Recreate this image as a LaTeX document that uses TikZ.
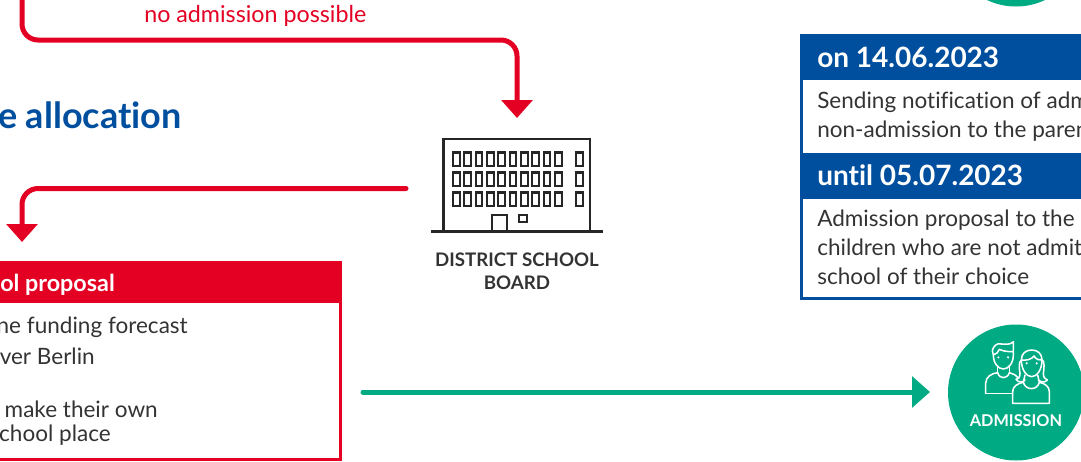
\documentclass[tikz,border=0pt]{standalone}
\usepackage{fontspec}
\setmainfont[Ligatures=NoCommon]{Lato}
\usetikzlibrary{arrows.meta}
\definecolor{rd}{HTML}{E40023}
\definecolor{bl}{HTML}{004F9F}
\definecolor{gr}{HTML}{00AB84}
\definecolor{tx}{HTML}{333333}
\tikzset{
  body/.style={font=\fontsize{16.9}{20}\selectfont,text=tx,inner sep=0pt,anchor=base west},
  bodyR/.style={body,anchor=base east},
  headW/.style={font=\fontsize{21}{24}\selectfont\bfseries,text=white,inner sep=0pt,anchor=base west},
  headR/.style={font=\fontsize{17.5}{20}\selectfont\bfseries,text=white,inner sep=0pt,anchor=base east},
  lab/.style={font=\fontsize{14}{16}\selectfont\bfseries,inner sep=0pt,anchor=base},
  labW/.style={font=\fontsize{12.2}{16}\selectfont\bfseries,text=white,inner sep=0pt,anchor=base},
  redarrow/.style={draw=rd,line width=3.75pt,rounded corners=12pt,line cap=round,-{Triangle[width=23pt,length=13.5pt]}},
  greenarrow/.style={draw=gr,line width=3.75pt,line cap=round,-{Triangle[width=23pt,length=13.5pt]}},
  bld/.style={draw=black!85,line width=1.55pt},
  ppl/.style={draw=white,line width=1.15pt,line join=round,line cap=round},
}
\begin{document}
\begin{tikzpicture}[x=0.75pt,y=-0.75pt]
\useasboundingbox (0,0) rectangle (1081,461);
\clip (0,0) rectangle (1081,461);
% blue panel
\draw[bl,line width=2.2pt] (801.5,34) -- (801.5,298.5) -- (1085,298.5);
\fill[bl] (800,34) rectangle (1085,80);
\fill[bl] (800,153) rectangle (1085,199);
\node[headW] (h1) at (817,67.5) {on 14.06.2023};
\node[headW] (h2) at (817,185.5) {until 05.07.2023};
\node[body] (b1) at (817,108) {Sending notification of adm};
\node[body] (b2) at (817,137) {non-admission to the paren};
\node[body] (b3) at (817,226) {Admission proposal to the};
\node[body] (b4) at (817,255) {children who are not admit};
\node[body] (b5) at (817,284) {school of their choice};
% red panel
\draw[rd,line width=2.2pt] (-5,459.5) -- (340.5,459.5) -- (340.5,261);
\fill[rd] (-5,261) rectangle (342,303);
\node[headR] (rh) at (115,291) {ol proposal};
\node[bodyR] (r1) at (188,333) {ne funding forecast};
\node[bodyR] (r2) at (95,364) {ver Berlin};
\node[bodyR] (r3) at (158,417) {make their own};
\node[bodyR] (r4) at (111,441) {chool place};
% texts
\node[font=\fontsize{27}{30}\selectfont\bfseries,text=bl,inner sep=0pt,anchor=base east] (alloc) at (182,128) {e allocation};
\node[font=\fontsize{17.45}{20}\selectfont,text=rd,inner sep=0pt,anchor=base west] (noadm) at (144,22) {no admission possible};
\node[lab,text=tx] (ds1) at (517,266.5) {DISTRICT SCHOOL};
\node[lab,text=tx] (ds2) at (517,289.5) {BOARD};
% building
\draw[bld] (443.5,231) -- (443.5,139) -- (590,139) -- (590,231);
\draw[bld] (431,231.5) -- (603,231.5);
\foreach \y in {152.5,172.5,192.5}{
  \foreach \i in {0,...,9}{
    \draw[bld] ({453+11.35*\i},\y) rectangle ({459.6+11.35*\i},\y+13.5);
  }
  \draw[bld] (576,\y) rectangle (582.6,\y+13.5);
}
\draw[bld] (492,231) -- (492,215) -- (507,215) -- (507,231);
\draw[bld] (519,215) rectangle (527,222);
% circles
\fill[gr] (1016,-61.5) circle (68);
\node[circle,fill=gr,minimum size=51pt,inner sep=0pt] (adm) at (1016,392.5) {};
\fill[gr] (1016,392.5) circle (68);
\node[labW] (admt) at (1016,426) {ADMISSION};
\begin{scope}[shift={(930,320)},x=0.25pt,y=-0.25pt]
 % man
 \draw[ppl] (167,220) -- (248,220);
 \draw[ppl] (167,220) -- (167,190) .. controls (167,170) and (185,160) .. (203,158)
   .. controls (208,178) and (232,178) .. (238,158) .. controls (248,160) and (258,165) .. (266,176);
 \draw[ppl] (203,142) -- (203,158);
 \draw[ppl] (238,142) -- (238,158);
 \draw[ppl] (190,105) .. controls (190,130) and (205,147) .. (220,147) .. controls (235,147) and (250,130) .. (250,105)
    -- (250,65) .. controls (240,76) and (225,72) .. (215,72) .. controls (200,68) and (190,78) .. (187,92) -- (190,105)
    .. controls (200,103) and (205,95) .. (208,88) .. controls (222,95) and (238,95) .. (250,95);
 \fill[white] (205,112) circle (3.5) (234,112) circle (3.5);
 % woman
 \draw[ppl] (248,250) -- (358,250) -- (358,215) .. controls (358,200) and (345,190) .. (328,187)
    .. controls (322,212) and (286,212) .. (280,187) .. controls (262,190) and (248,200) .. (248,215) -- cycle;
 \draw[ppl] (285,165) -- (280,187);
 \draw[ppl] (323,165) -- (328,187);
 \draw[ppl] (274,120) .. controls (274,150) and (290,170) .. (305,170) .. controls (320,170) and (336,150) .. (336,120)
    .. controls (336,100) and (322,90) .. (305,90) .. controls (288,90) and (274,100) .. (274,120)
    .. controls (290,122) and (305,118) .. (312,108) .. controls (318,118) and (328,122) .. (336,120);
 \draw[ppl] (336,120) .. controls (345,120) and (342,150) .. (340,160) .. controls (340,172) and (345,178) .. (352,180) .. controls (345,188) and (335,188) .. (325,180);
 \draw[ppl] (274,120) .. controls (265,125) and (268,150) .. (270,160) .. controls (270,172) and (265,176) .. (258,178) .. controls (265,188) and (278,188) .. (285,180);
 \fill[white] (290,130) circle (3.5) (320,130) circle (3.5);
\end{scope}
% connectors
\coordinate (s1) at (22,-5);
\coordinate (s1a) at (22,40);
\coordinate (s1b) at (517,40);
\coordinate (e1) at (517,118);
\coordinate (s2) at (406,188.5);
\coordinate (s2a) at (22,188.5);
\coordinate (e2) at (22,242);
\coordinate (s3) at (363,392);
\coordinate (e3) at (930,392);
\draw[redarrow] (s1) -- (s1a) -- (s1b) -- (e1);
\draw[redarrow] (s2) -- (s2a) -- (e2);
\draw[greenarrow] (s3) -- (e3);
\end{tikzpicture}
\end{document}
